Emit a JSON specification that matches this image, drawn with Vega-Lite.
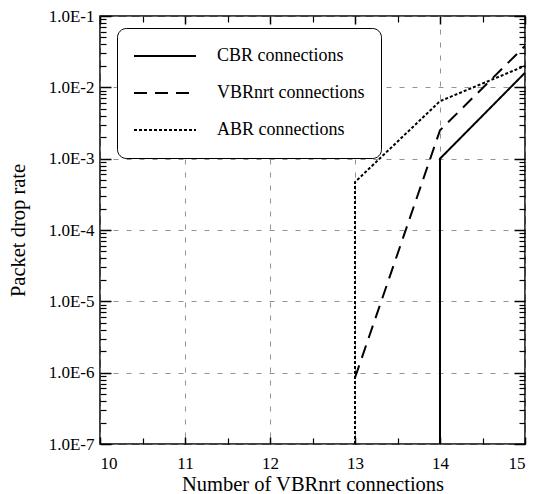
{
  "$schema": "https://vega.github.io/schema/vega-lite/v6.json",
  "width": 425,
  "height": 428,
  "autosize": "none",
  "padding": {"left": 100, "top": 16, "right": 9, "bottom": 50},
  "background": "white",
  "config": {
    "view": {"stroke": "black", "strokeWidth": 1.5},
    "font": "Liberation Serif",
    "axis": {"labelFont": "Liberation Serif", "titleFont": "Liberation Serif", "labelColor": "black", "titleColor": "black", "tickColor": "black", "titleFontWeight": "normal"},
    "legend": {"labelFont": "Liberation Serif"}
  },
  "data": {
    "values": [
      {"series": "CBR connections", "n": 14, "rate": 1e-7, "ord": 1},
      {"series": "CBR connections", "n": 14, "rate": 1e-3, "ord": 2},
      {"series": "CBR connections", "n": 15, "rate": 1.6e-2, "ord": 3},
      {"series": "VBRnrt connections", "n": 13, "rate": 8.5e-7, "ord": 1},
      {"series": "VBRnrt connections", "n": 14, "rate": 2.5e-3, "ord": 2},
      {"series": "VBRnrt connections", "n": 15, "rate": 3.8e-2, "ord": 3},
      {"series": "ABR connections", "n": 13, "rate": 1e-7, "ord": 1},
      {"series": "ABR connections", "n": 13, "rate": 4.7e-4, "ord": 2},
      {"series": "ABR connections", "n": 14, "rate": 6.4e-3, "ord": 3},
      {"series": "ABR connections", "n": 15, "rate": 2.0e-2, "ord": 4}
    ]
  },
  "resolve": {"scale": {"x": "independent", "y": "independent"}, "axis": {"x": "independent", "y": "independent"}},
  "layer": [
    {
      "mark": {"type": "line", "color": "black", "strokeWidth": 2},
      "encoding": {
        "x": {"field": "n", "type": "quantitative", "scale": {"domain": [10, 15], "nice": false, "zero": false},
          "axis": {"orient": "bottom", "values": [10, 11, 12, 13, 14, 15], "ticks": true, "tickSize": -7, "tickWidth": 1.5, "domain": false, "grid": true, "gridDash": [5, 8], "gridColor": "#777", "gridWidth": 0.8, "labelFontSize": 17, "labelPadding": 18, "title": "Number of VBRnrt connections", "titleFontSize": 20.5, "titlePadding": 3}},
        "y": {"field": "rate", "type": "quantitative", "scale": {"type": "log", "domain": [1e-7, 1e-1], "nice": false},
          "axis": {"orient": "left", "values": [1e-7, 1e-6, 1e-5, 1e-4, 1e-3, 1e-2, 1e-1], "ticks": true, "tickSize": -11, "tickWidth": 1.5, "domain": false, "grid": true, "gridDash": [5, 8], "gridColor": "#777", "gridWidth": 0.8, "labelFontSize": 17, "labelPadding": 17, "labelExpr": "'1.0E' + round(log(datum.value) / LN10)", "title": "Packet drop rate", "titleFontSize": 20.5, "titlePadding": 20}},
        "strokeDash": {"field": "series", "type": "nominal",
          "scale": {"domain": ["CBR connections", "VBRnrt connections", "ABR connections"], "range": [[1, 0], [13, 8], [3, 2]]},
          "legend": {"title": null, "orient": "none", "legendX": 17, "legendY": 12, "symbolType": "stroke", "symbolSize": 3844, "symbolStrokeWidth": 2, "symbolStrokeColor": "black", "clipHeight": 24, "rowPadding": 13, "padding": 16, "labelFont": "Liberation Serif", "labelFontSize": 18, "labelOffset": 20, "labelColor": "black", "strokeColor": "black", "cornerRadius": 9, "fillColor": "white"}},
        "order": {"field": "ord", "type": "quantitative"}
      }
    },
    {
      "mark": {"type": "point", "opacity": 0},
      "encoding": {
        "x": {"field": "n", "type": "quantitative", "scale": {"domain": [10, 15], "nice": false, "zero": false},
          "axis": {"orient": "top", "values": [10, 11, 12, 13, 14, 15], "ticks": true, "tickSize": -8, "tickWidth": 1.5, "labels": false, "domain": false, "grid": false, "title": null}},
        "y": {"field": "rate", "type": "quantitative", "scale": {"type": "log", "domain": [1e-7, 1e-1], "nice": false},
          "axis": {"orient": "right", "values": [1e-7, 1e-6, 1e-5, 1e-4, 1e-3, 1e-2, 1e-1], "ticks": true, "tickSize": -11, "tickWidth": 1.5, "labels": false, "domain": false, "grid": false, "title": null}}
      }
    },
    {
      "mark": {"type": "point", "opacity": 0},
      "encoding": {
        "x": {"field": "n", "type": "quantitative", "scale": {"domain": [10, 15], "nice": false, "zero": false},
          "axis": {"orient": "bottom", "values": [10.5, 11.5, 12.5, 13.5, 14.5], "ticks": true, "tickSize": -6, "tickWidth": 1.2, "labels": false, "domain": false, "grid": false, "title": null}},
        "y": {"field": "rate", "type": "quantitative", "scale": {"type": "log", "domain": [1e-7, 1e-1], "nice": false},
          "axis": {"orient": "left", "values": [2e-7,3e-7,4e-7,5e-7,6e-7,7e-7,8e-7,9e-7,2e-6,3e-6,4e-6,5e-6,6e-6,7e-6,8e-6,9e-6,2e-5,3e-5,4e-5,5e-5,6e-5,7e-5,8e-5,9e-5,2e-4,3e-4,4e-4,5e-4,6e-4,7e-4,8e-4,9e-4,2e-3,3e-3,4e-3,5e-3,6e-3,7e-3,8e-3,9e-3,2e-2,3e-2,4e-2,5e-2,6e-2,7e-2,8e-2,9e-2], "ticks": true, "tickSize": -6, "tickWidth": 1.2, "labels": false, "domain": false, "grid": false, "title": null}}
      }
    },
    {
      "mark": {"type": "point", "opacity": 0},
      "encoding": {
        "x": {"field": "n", "type": "quantitative", "scale": {"domain": [10, 15], "nice": false, "zero": false},
          "axis": {"orient": "top", "values": [10.5, 11.5, 12.5, 13.5, 14.5], "ticks": true, "tickSize": -6, "tickWidth": 1.2, "labels": false, "domain": false, "grid": false, "title": null}},
        "y": {"field": "rate", "type": "quantitative", "scale": {"type": "log", "domain": [1e-7, 1e-1], "nice": false},
          "axis": {"orient": "right", "values": [2e-7,3e-7,4e-7,5e-7,6e-7,7e-7,8e-7,9e-7,2e-6,3e-6,4e-6,5e-6,6e-6,7e-6,8e-6,9e-6,2e-5,3e-5,4e-5,5e-5,6e-5,7e-5,8e-5,9e-5,2e-4,3e-4,4e-4,5e-4,6e-4,7e-4,8e-4,9e-4,2e-3,3e-3,4e-3,5e-3,6e-3,7e-3,8e-3,9e-3,2e-2,3e-2,4e-2,5e-2,6e-2,7e-2,8e-2,9e-2], "ticks": true, "tickSize": -6, "tickWidth": 1.2, "labels": false, "domain": false, "grid": false, "title": null}}
      }
    }
  ]
}
